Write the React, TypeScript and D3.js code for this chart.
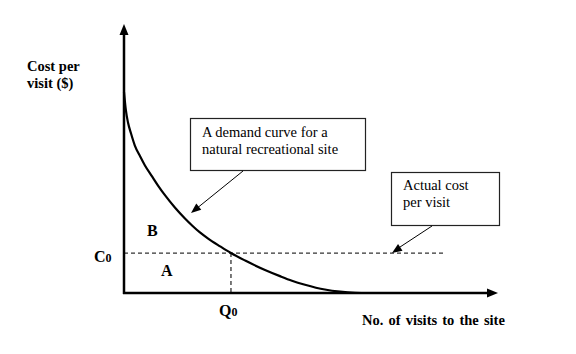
import React from "react";
import * as d3 from "d3";

// Demand curve (visits, cost) in arbitrary units
const curveVisits = [0, 0.5, 1.1, 1.9, 2.9, 4.3, 5.6, 7.5, 9.1, 11.0, 13.6, 16.3, 18.2, 20.3, 22.5, 25.7, 28.6, 32.4, 37.7, 41.7, 44.9, 48.4, 53.7, 57.8, 61.8, 65.8];
const curveCost = [75.0, 68.2, 63.4, 59.4, 55.0, 51.0, 47.6, 43.5, 40.1, 36.4, 31.9, 27.8, 25.2, 22.6, 20.3, 17.4, 14.9, 12.1, 8.6, 6.3, 4.6, 3.1, 1.3, 0.5, 0.1, 0];
const costC0 = 14.9;
const visitsQ0 = 28.6;
const costLineEnd = 86.1;
const yAxisLabel = ["Cost per", "visit ($)"];
const xAxisLabel = "No. of visits to the site";
const demandNote = ["A demand curve for a", "natural recreational site"];
const costNote = ["Actual cost", "per visit"];

const W = 576;
const H = 354;
const FONT = "'Liberation Serif', 'Times New Roman', serif";

export default function App() {
  const x = d3.scaleLinear().domain([0, 100]).range([124, 498]);
  const y = d3.scaleLinear().domain([0, 100]).range([293, 25]);
  const pts: [number, number][] = curveVisits.map((v, i) => [v, curveCost[i]]);
  const line = d3
    .line<[number, number]>()
    .x((d) => x(d[0]))
    .y((d) => y(d[1]))
    .curve(d3.curveMonotoneX);

  const x0 = x(0);
  const y0 = y(0);
  const xC = x(visitsQ0);
  const yC = y(costC0);

  const arrowHead = (tx: number, ty: number, fx: number, fy: number, len: number, half: number) => {
    const a = Math.atan2(ty - fy, tx - fx);
    const bx = tx - len * Math.cos(a);
    const by = ty - len * Math.sin(a);
    const px = -Math.sin(a) * half;
    const py = Math.cos(a) * half;
    return `M${tx},${ty}L${bx + px},${by + py}L${bx - px},${by - py}Z`;
  };

  return (
    <svg
      width={W}
      height={H}
      style={{ position: "absolute", left: 0, top: 0, background: "#fff" }}
      fontFamily={FONT}
    >
      <rect x={0} y={0} width={W} height={H} fill="#fff" />
      {/* dashed guides */}
      <line x1={x0} x2={x(costLineEnd)} y1={yC} y2={yC} stroke="#333" strokeWidth={1.3} strokeDasharray="4,3" />
      <line x1={xC} x2={xC} y1={yC} y2={y0} stroke="#333" strokeWidth={1.3} strokeDasharray="4,3" />
      {/* curve */}
      <path d={line(pts) || ""} fill="none" stroke="#000" strokeWidth={2.2} />
      {/* axes */}
      <line x1={x0} x2={x0} y1={y0 + 1} y2={y(100) + 8} stroke="#000" strokeWidth={2.5} />
      <path d={arrowHead(x0, y(100) - 1, x0, y0, 11, 4.5)} fill="#000" />
      <line x1={x0 - 1} x2={x(100) - 8} y1={y0} y2={y0} stroke="#000" strokeWidth={2.5} />
      <path d={arrowHead(x(100), y0, x0, y0, 11, 4.5)} fill="#000" />

      {/* axis labels */}
      <text x={27} y={71} fontSize={14.5} fontWeight="bold">{yAxisLabel[0]}</text>
      <text x={27} y={88} fontSize={14.5} fontWeight="bold">{yAxisLabel[1]}</text>
      <text x={362} y={325} fontSize={14.5} fontWeight="bold" wordSpacing={1.5}>{xAxisLabel}</text>

      {/* point labels */}
      <text x={94} y={262} fontSize={16} fontWeight="bold">
        C<tspan fontSize={12}>0</tspan>
      </text>
      <text x={219} y={316} fontSize={16} fontWeight="bold">
        Q<tspan fontSize={12}>0</tspan>
      </text>
      <text x={161} y={276} fontSize={16} fontWeight="bold">A</text>
      <text x={147} y={236} fontSize={16} fontWeight="bold">B</text>

      {/* annotation 1 */}
      <rect x={190.5} y={118.5} width={175} height={52} fill="#fff" stroke="#222" strokeWidth={1.2} />
      <text x={202} y={137} fontSize={14.5}>{demandNote[0]}</text>
      <text x={202} y={154} fontSize={14.5}>{demandNote[1]}</text>
      <line x1={243} y1={171} x2={196} y2={209} stroke="#000" strokeWidth={1} />
      <path d={arrowHead(191, 213, 243, 171, 10, 4)} fill="#000" />

      {/* annotation 2 */}
      <rect x={391.5} y={172.5} width={108} height={53} fill="#fff" stroke="#222" strokeWidth={1.2} />
      <text x={403} y={190} fontSize={14.5}>{costNote[0]}</text>
      <text x={403} y={207} fontSize={14.5}>{costNote[1]}</text>
      <line x1={432} y1={226} x2={397} y2={249} stroke="#000" strokeWidth={1} />
      <path d={arrowHead(392, 253, 432, 226, 10, 4)} fill="#000" />
    </svg>
  );
}
